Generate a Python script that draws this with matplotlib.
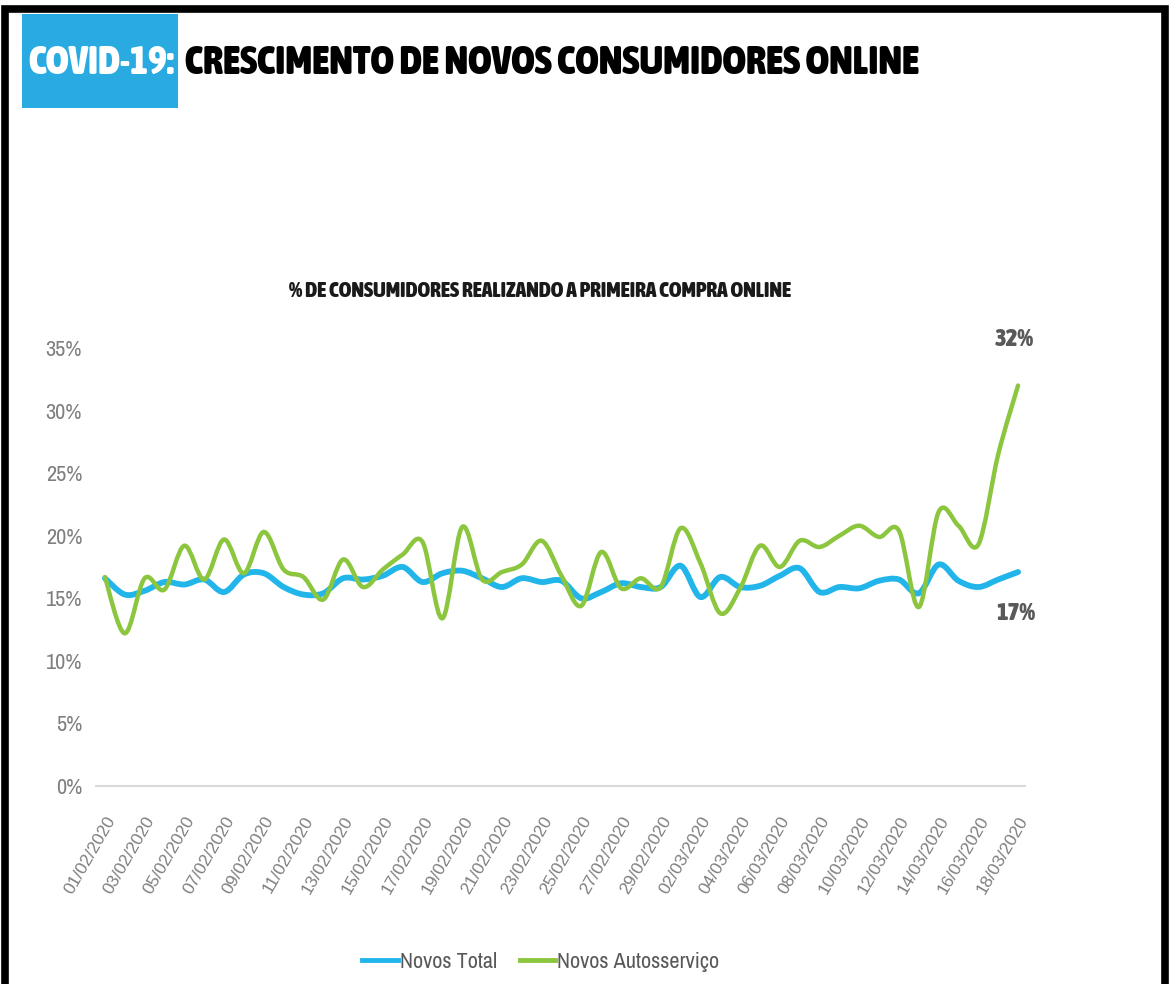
import matplotlib
matplotlib.use("Agg")
import matplotlib.pyplot as plt
import matplotlib.font_manager as fm
import numpy as np
import pandas as pd
from matplotlib.path import Path
from matplotlib.patches import PathPatch, Rectangle
from matplotlib.lines import Line2D

# --- data ---
start_date, end_date = "2020-02-01", "2020-03-18"
dates = pd.date_range(start_date, end_date, freq="D").strftime("%d/%m/%Y").tolist()

novos_total = [16.6, 15.3, 15.6, 16.3, 16.1, 16.5, 15.5, 16.9, 17.0, 15.9,
               15.3, 15.4, 16.6, 16.5, 16.8, 17.5, 16.3, 17.0, 17.2, 16.6,
               15.9, 16.6, 16.3, 16.4, 15.0, 15.5, 16.2, 15.9, 15.9, 17.6,
               15.1, 16.7, 15.9, 16.0, 16.8, 17.4, 15.5, 15.9, 15.8, 16.4,
               16.5, 15.4, 17.7, 16.4, 15.9, 16.5, 17.1]
novos_autoservico = [16.7, 12.2, 16.6, 15.7, 19.2, 16.5, 19.7, 17.0, 20.3, 17.3,
                     16.7, 14.9, 18.1, 15.9, 17.3, 18.5, 19.5, 13.4, 20.7, 16.5,
                     17.1, 17.7, 19.6, 16.8, 14.4, 18.7, 15.8, 16.6, 15.9, 20.6,
                     17.8, 13.8, 15.8, 19.2, 17.5, 19.6, 19.1, 20.0, 20.8, 19.9,
                     20.4, 14.3, 21.9, 20.8, 19.3, 26.5, 32.0]

series_labels = ["Novos Total", "Novos Autosserviço"]
series_colors = ["#22B5EA", "#8CC63E"]
end_labels = ["17%", "32%"]
y_ticks = [0, 5, 10, 15, 20, 25, 30, 35]


def _weight(f):
    w = f.weight
    if isinstance(w, str):
        w = fm.weight_dict.get(w, 400)
    return w


def _stretch(f):
    s = f.stretch
    if isinstance(s, str):
        s = fm.stretch_dict.get(s, 500)
    return s


def condensed_font(bold):
    """Pick an installed narrow/condensed face, else plain DejaVu."""
    cands = []
    for f in fm.fontManager.ttflist:
        narrow = ("Narrow" in f.name or "Condensed" in f.name or _stretch(f) < 500)
        if not narrow or f.style != "normal":
            continue
        is_bold = _weight(f) >= 600
        if is_bold == bold:
            cands.append(f)
    if cands:
        cands.sort(key=lambda f: (_stretch(f), f.name))
        return fm.FontProperties(fname=cands[0].fname)
    return fm.FontProperties(family="DejaVu Sans",
                             weight="bold" if bold else "normal")


NARROW = condensed_font(False)
NARROW_B = condensed_font(True)
REG = "Liberation Sans"
GREY = "#7F7F7F"

W, H = 1171, 984
fig = plt.figure(figsize=(W / 100, H / 100), dpi=100)


def fx(px):
    return px / W


def fy(py):
    return 1 - py / H


def fp(base, size):
    p = base.copy()
    p.set_size(size)
    return p


ax = fig.add_axes([fx(96), fy(786), fx(1025 - 96), (786 - 348) / H])


def smooth_path(xs, ys):
    # Excel-style smoothed line: cubic Bezier through each point
    pts = np.column_stack([xs, ys]).astype(float)
    n = len(pts)
    verts = [pts[0]]
    codes = [Path.MOVETO]
    for i in range(n - 1):
        p0 = pts[i - 1] if i > 0 else pts[i]
        p1, p2 = pts[i], pts[i + 1]
        p3 = pts[i + 2] if i + 2 < n else pts[i + 1]
        verts += [p1 + (p2 - p0) / 6, p2 - (p3 - p1) / 6, p2]
        codes += [Path.CURVE4] * 3
    return Path(verts, codes)


xs = np.arange(len(dates))
for vals, col, lw in [(novos_total, series_colors[0], 4.2),
                      (novos_autoservico, series_colors[1], 3.2)]:
    ax.add_patch(PathPatch(smooth_path(xs, vals), fill=False, edgecolor=col,
                           lw=lw, capstyle="round", joinstyle="round"))

ax.set_xlim(-0.45, len(dates) - 0.65)
ax.set_ylim(0, 35)
ax.set_yticks(y_ticks)
ax.set_yticklabels([f"{v}%" for v in y_ticks], fontproperties=fp(NARROW, 16),
                   color=GREY)
ax.set_xticks(xs[::2])
ax.set_xticklabels(dates[::2], rotation=60, ha="right", va="top",
                   rotation_mode="anchor", fontfamily=REG, fontsize=12.5,
                   color=GREY)
ax.tick_params(axis="y", length=0, pad=10)
ax.tick_params(axis="x", length=0, pad=20)
for s in ["top", "right", "left"]:
    ax.spines[s].set_visible(False)
ax.spines["bottom"].set_color("#D9D9D9")
ax.spines["bottom"].set_linewidth(1.5)

# end-of-series value labels
ax.annotate(end_labels[1], (xs[-1], novos_autoservico[-1]), xytext=(-3, 33),
            textcoords="offset points", ha="center", va="center",
            fontproperties=fp(NARROW_B, 18), color="#595959")
ax.annotate(end_labels[0], (xs[-1], novos_total[-1]), xytext=(-2, -30),
            textcoords="offset points", ha="center", va="center",
            fontproperties=fp(NARROW_B, 18), color="#595959")

handles = [Line2D([], [], color=c, lw=3.5) for c in series_colors]
fig.legend(handles, series_labels, loc="center", ncol=2,
           bbox_to_anchor=(fx(541), fy(962)), frameon=False,
           prop=fp(NARROW, 16), labelcolor="#595959",
           handlelength=1.6, handletextpad=0.1, columnspacing=1.0)

# chart subtitle
sub = fig.text(fx(540), fy(291),
               "% DE CONSUMIDORES REALIZANDO A PRIMEIRA COMPRA ONLINE",
               ha="center", va="center", fontproperties=fp(NARROW_B, 14),
               color="#1A1A1A")

# slide header
fig.add_artist(Rectangle((fx(22), fy(108)), fx(156), (108 - 14) / H,
                         transform=fig.transFigure, facecolor="#29ABE2",
                         edgecolor="none"))
covid = fig.text(fx(101), fy(63), "COVID-19:", ha="center", va="center",
                 fontproperties=fp(NARROW_B, 27), color="white")
title = fig.text(fx(185), fy(63), "CRESCIMENTO DE NOVOS CONSUMIDORES ONLINE",
                 ha="left", va="center", fontproperties=fp(NARROW_B, 27),
                 color="black")

# scale header texts so they span the same width as in the reference
renderer = fig.canvas.get_renderer()
for t, width in [(covid, 146), (title, 735), (sub, 500)]:
    w = t.get_window_extent(renderer).width
    t.set_fontsize(t.get_fontsize() * width / w)

# black slide frame (open at the bottom)
fig.add_artist(Rectangle((fx(5), -0.05), fx(1160), 1.05 - 9 / H,
                         transform=fig.transFigure, fill=False,
                         edgecolor="black", lw=5.5))

fig.savefig("out.png", dpi=100)
